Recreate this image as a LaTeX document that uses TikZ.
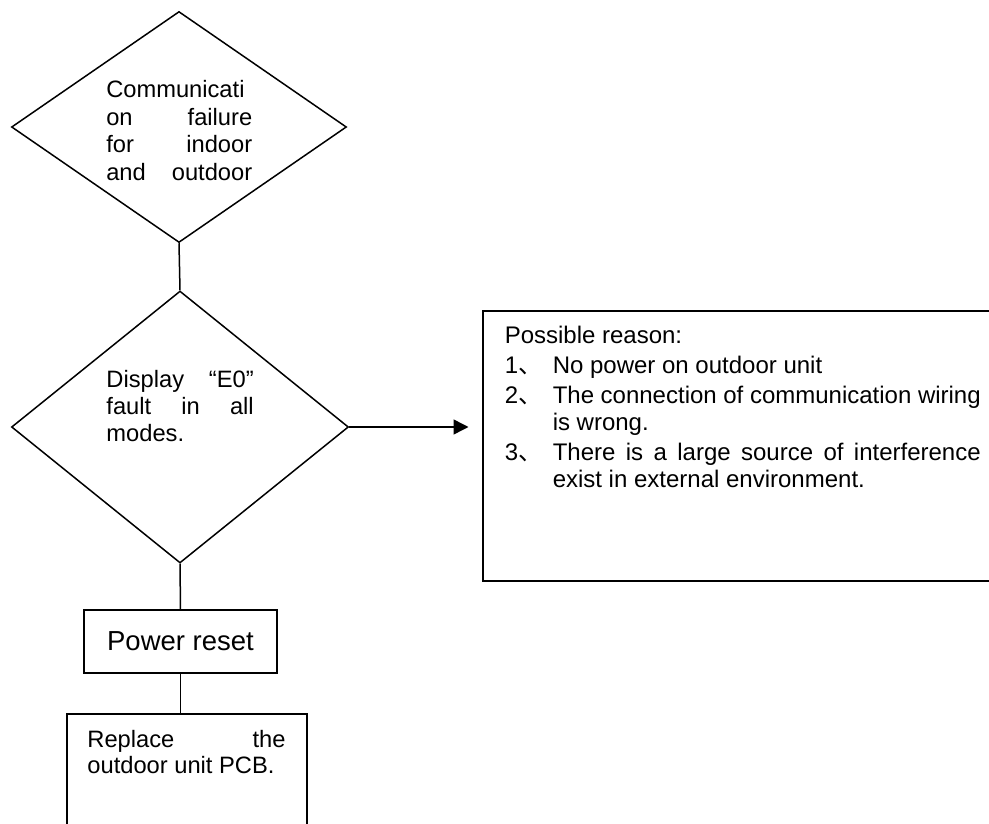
\documentclass[tikz,border=0pt]{standalone}
\usepackage{fontspec}
\setmainfont{Liberation Sans}
\newfontfamily\cjk{Noto Sans CJK SC}
\usetikzlibrary{shapes.geometric,arrows.meta}

% a fully justified line of given width
\newcommand{\jline}[2]{\hbox to #1{#2}}

\begin{document}
\begin{tikzpicture}[x=1pt,y=-1pt,line width=1.5pt,
  decision/.style={draw,diamond,inner sep=0pt},
  boxnode/.style={draw,rectangle,inner sep=0pt},
  txt/.style={inner sep=0pt,anchor=base west,font=\fontsize{23.7}{27.5}\selectfont},
  flow/.style={line width=1.5pt},
  arrowflow/.style={line width=1.5pt,-{Triangle[length=15pt,width=15pt]}}]

\useasboundingbox (0,0) rectangle (989,824);
\clip (0,0) rectangle (989,824);

% decisions
\node[decision,minimum width=335pt,minimum height=231pt] (d1) at (179,127) {};
\node[decision,minimum width=337pt,minimum height=272pt] (d2) at (180,427) {};

% process boxes
\node[boxnode,minimum width=193pt,minimum height=63pt,
      font=\fontsize{27.5}{30}\selectfont] (reset) at (180.5,641.5) {Power reset};
\node[boxnode,minimum width=240pt,minimum height=126pt] (replace) at (187,777) {};
\node[boxnode,minimum width=517pt,minimum height=270pt] (reason) at (741.5,446) {};

% texts
\node[txt] (t1) at (105.5,97.7) {\vtop{\baselineskip=27.5pt
  \hbox{Communicati}
  \jline{146pt}{on\hfill failure}
  \jline{146pt}{for\hfill indoor}
  \jline{146pt}{and\hfill outdoor}}};

\node[txt] (t2) at (105.7,387.7) {\vtop{\baselineskip=27pt
  \jline{147.3pt}{Display\hfill “E0”}
  \jline{147.3pt}{fault\hfill in\hfill all}
  \hbox{modes.}}};

\node[txt] (t3) at (86.7,747) {\vtop{\baselineskip=26pt
  \jline{198pt}{Replace\hfill the}
  \hbox{outdoor unit PCB.}}};

\node[txt,font=\fontsize{24}{27.5}\selectfont] (t4) at (504,343) {\vtop{\baselineskip=27.5pt
  \hbox{Possible reason:}
  \vskip2.5pt
  \hbox{\hbox to 48pt{1{\cjk 、}\hfil}No power on outdoor unit}
  \vskip2.5pt
  \hbox{\hbox to 48pt{2{\cjk 、}\hfil}\jline{428pt}{The\hfill connection\hfill of\hfill communication\hfill wiring}}
  \hbox{\hbox to 48pt{\hfil}is wrong.}
  \vskip2pt
  \hbox{\hbox to 48pt{3{\cjk 、}\hfil}\jline{428pt}{There\hfill is\hfill a\hfill large\hfill source\hfill of\hfill interference}}
  \hbox{\hbox to 48pt{\hfil}exist in external environment.}}};

% connectors
\coordinate (tip) at (468.5,427);
\draw[flow] (d1.south) -- (d2.north);
\draw[arrowflow] (d2.east) -- (tip);
\draw[flow] (d2.south) -- (reset.north);
\draw[flow] (reset.south) -- (reset.south |- replace.north);
\end{tikzpicture}
\end{document}
